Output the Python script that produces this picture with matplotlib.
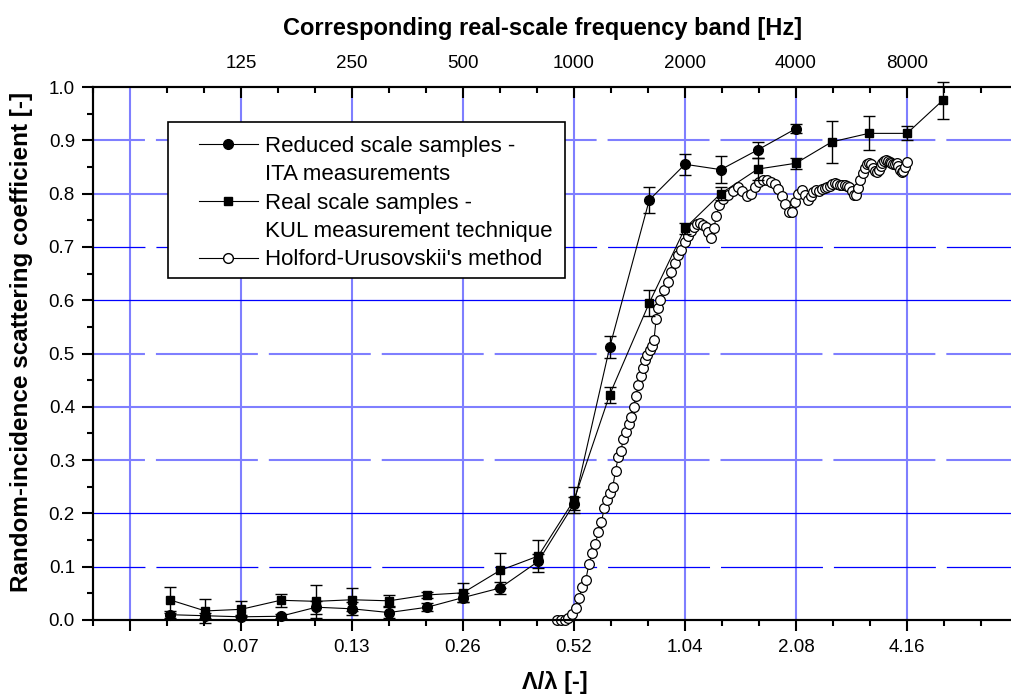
import numpy as np
import matplotlib.pyplot as plt
from matplotlib.lines import Line2D
from matplotlib.patches import Rectangle
from matplotlib.ticker import NullFormatter, MultipleLocator

plt.rcParams['font.family'] = ['Liberation Sans', 'DejaVu Sans']
plt.rcParams['lines.scale_dashes'] = False

# third-octave bands (real-scale frequency, Hz); Lambda/lambda = f * 0.52 / 1000
bands_ita = [80, 100, 125, 160, 200, 250, 315, 400, 500, 630, 800, 1000,
             1250, 1600, 2000, 2500, 3150, 4000]
s_ita = [0.010, 0.008, 0.006, 0.007, 0.024, 0.021, 0.014, 0.024, 0.042, 0.060,
         0.110, 0.218, 0.512, 0.788, 0.855, 0.845, 0.882, 0.922]
err_ita = [0.006, 0.005, 0.004, 0.004, 0.012, 0.012, 0.010, 0.007, 0.008, 0.011,
           0.013, 0.012, 0.020, 0.024, 0.020, 0.025, 0.015, 0.008]

bands_kul = bands_ita + [5000, 6300, 8000, 10000]
s_kul = [0.038, 0.017, 0.020, 0.037, 0.035, 0.038, 0.036, 0.047, 0.051, 0.093,
         0.120, 0.225, 0.423, 0.595, 0.735, 0.800, 0.846, 0.857, 0.897, 0.913,
         0.913, 0.975]
err_kul = [0.024, 0.022, 0.015, 0.012, 0.031, 0.022, 0.010, 0.005, 0.018, 0.033,
           0.030, 0.025, 0.015, 0.025, 0.010, 0.012, 0.020, 0.010, 0.040, 0.032,
           0.013, 0.035]

# Holford-Urusovskii spectrum (Hz)
hu_f1 = np.arange(900, 1700, 22)
hu_s1 = [0.0, 0.0, 0.0, 0.003, 0.012, 0.022, 0.042, 0.062, 0.075, 0.105,
         0.125, 0.142, 0.165, 0.183, 0.21, 0.225, 0.238, 0.25, 0.28, 0.305,
         0.318, 0.34, 0.352, 0.368, 0.38, 0.40, 0.42, 0.44, 0.458, 0.472,
         0.488, 0.497, 0.507, 0.515, 0.525, 0.565, 0.585]
hu_f2 = np.arange(1714, 2500, 40)
hu_s2 = [0.60, 0.62, 0.634, 0.652, 0.67, 0.684, 0.695, 0.71, 0.72, 0.73,
         0.737, 0.743, 0.745, 0.742, 0.737, 0.728, 0.717, 0.735, 0.758, 0.778]
hu_f3 = np.arange(2540, 8000, 80)
hu_s3 = [0.79, 0.798, 0.805, 0.812, 0.805, 0.795, 0.80, 0.812, 0.822, 0.826,
         0.825, 0.822, 0.818, 0.808, 0.795, 0.78, 0.766, 0.765, 0.785, 0.80,
         0.806, 0.798, 0.788, 0.795, 0.803, 0.806, 0.805, 0.808, 0.81, 0.812,
         0.815, 0.818, 0.82, 0.818, 0.817, 0.816, 0.816, 0.815, 0.812, 0.805,
         0.798, 0.797, 0.81, 0.825, 0.838, 0.848, 0.855, 0.858, 0.856, 0.848,
         0.842, 0.84, 0.845, 0.852, 0.858, 0.862, 0.863, 0.862, 0.86, 0.857,
         0.855, 0.856, 0.857, 0.852, 0.845, 0.84, 0.842, 0.85, 0.86]

bottom_ticks = [0.0325, 0.065, 0.13, 0.26, 0.52, 1.04, 2.08, 4.16]
bottom_labels = ['', '0.07', '0.13', '0.26', '0.52', '1.04', '2.08', '4.16']
top_freqs = [125, 250, 500, 1000, 2000, 4000, 8000]

to_lam = 0.52 / 1000
lam_ita = np.array(bands_ita) * to_lam
lam_kul = np.array(bands_kul) * to_lam
lam_hu = np.concatenate([hu_f1, hu_f2, hu_f3]) * to_lam
s_hu = hu_s1 + hu_s2 + hu_s3

fig = plt.figure(figsize=(10.12, 6.95), dpi=100)
ax = fig.add_axes([93 / 1012, 75 / 695, 925 / 1012, 533 / 695])
ax.set_xscale('log', base=2)
xlim = (0.52 / 2 ** (13 / 3), 8.32)
ax.set_xlim(xlim)
ax.set_ylim(0, 1)

# grid
light = '#7f7fff'
dark = '#0000ff'
for xv in bottom_ticks:
    ax.axvline(xv, color=light, lw=1.5, zorder=1)
dash = (36, (73.4, 7.9))
hstyles = {0.1: (dark, 0.9, dash), 0.2: (dark, 0.9, '-'), 0.3: (light, 1.5, dash),
           0.4: (light, 1.5, '-'), 0.5: (light, 1.5, dash), 0.6: (dark, 0.9, '-'),
           0.7: (dark, 0.9, dash), 0.8: (light, 1.5, '-'), 0.9: (light, 1.5, dash)}
for yv, (c, lw, ls) in hstyles.items():
    ax.axhline(yv, color=c, lw=lw, linestyle=ls, zorder=1)

# data
ax.plot(lam_hu, s_hu, color='black', lw=0.8, marker='o', ms=7, mfc='white',
        mec='black', mew=0.9, zorder=2, clip_on=False)
ax.errorbar(lam_kul, s_kul, yerr=err_kul, fmt='none', ecolor='black',
            elinewidth=1, capsize=4.5, capthick=1, zorder=3, clip_on=False)
ax.plot(lam_kul, s_kul, color='black', lw=0.8, marker='s', ms=6, zorder=3,
        clip_on=False)
ax.errorbar(lam_ita, s_ita, yerr=err_ita, fmt='none', ecolor='black',
            elinewidth=1, capsize=4.5, capthick=1, zorder=4, clip_on=False)
ax.plot(lam_ita, s_ita, color='black', lw=0.8, marker='o', ms=7, zorder=4,
        clip_on=False)

# ticks
ax.set_xticks(bottom_ticks, labels=bottom_labels)
minor = [0.52 * 2 ** (k / 3) for k in range(-13, 13) if k % 3 != 0]
ax.set_xticks(minor, minor=True)
ax.xaxis.set_minor_formatter(NullFormatter())
ax.set_yticks(np.arange(0, 1.01, 0.1), labels=[f'{v:.1f}' for v in np.arange(0, 1.01, 0.1)])
ax.yaxis.set_minor_locator(MultipleLocator(0.05))
ax.tick_params(axis='x', which='major', direction='out', length=8, width=1.5,
               labelsize=13.5, pad=6, top=False)
ax.tick_params(axis='x', which='minor', direction='out', length=4.5, width=1.5, top=False)
ax.tick_params(axis='y', which='major', direction='out', length=8, width=1.5,
               labelsize=13.5, pad=5)
ax.tick_params(axis='y', which='minor', direction='out', length=4.5, width=1.5)
for sp in ax.spines.values():
    sp.set_linewidth(1.5)

ax2 = ax.twiny()
ax2.set_xscale('log', base=2)
ax2.set_xlim(xlim)
ax2.set_xticks([f * to_lam for f in top_freqs], labels=[str(f) for f in top_freqs])
ax2.set_xticks(minor, minor=True)
ax2.xaxis.set_minor_formatter(NullFormatter())
ax2.tick_params(axis='x', which='major', direction='in', length=8, width=1.5,
                labelsize=13.5, pad=11)
ax2.tick_params(axis='x', which='minor', direction='in', length=4.5, width=1.5)
for sp in ax2.spines.values():
    sp.set_linewidth(1.5)

# labels
fig.text(543 / 1012, 1 - 28 / 695, 'Corresponding real-scale frequency band [Hz]',
         ha='center', va='center', fontsize=17, fontweight='bold')
fig.text(555 / 1012, 1 - 682 / 695, '\u039b/\u03bb [-]', ha='center', va='center',
         fontsize=17, fontweight='bold')
fig.text(22 / 1012, 1 - 342 / 695, 'Random-incidence scattering coefficient [-]',
         ha='center', va='center', rotation=90, fontsize=17.5, fontweight='bold')

# legend with a square frame
ax.add_patch(Rectangle((168 / 1012, 1 - 278 / 695), (565 - 168) / 1012, 156 / 695,
                       transform=fig.transFigure, facecolor='white', edgecolor='black',
                       lw=1.2, zorder=6, clip_on=False))
blank = Line2D([], [], linestyle='none')
handles = [Line2D([], [], color='black', lw=0.8, marker='o', ms=7),
           blank,
           Line2D([], [], color='black', lw=0.8, marker='s', ms=6),
           blank,
           Line2D([], [], color='black', lw=0.8, marker='o', ms=7, mfc='white', mec='black')]
labels = ['Reduced scale samples -', 'ITA measurements', 'Real scale samples -',
          'KUL measurement technique', "Holford-Urusovskii's method"]
leg = ax.legend(handles, labels, loc='upper left', bbox_to_anchor=(199 / 1012, 1 - 136 / 695),
                bbox_transform=fig.transFigure, frameon=False, fontsize=16,
                handlelength=2.65, handletextpad=0.32, borderpad=0, borderaxespad=0,
                labelspacing=0.33)
leg.set_zorder(7)

fig.savefig('out.png', dpi=100)
